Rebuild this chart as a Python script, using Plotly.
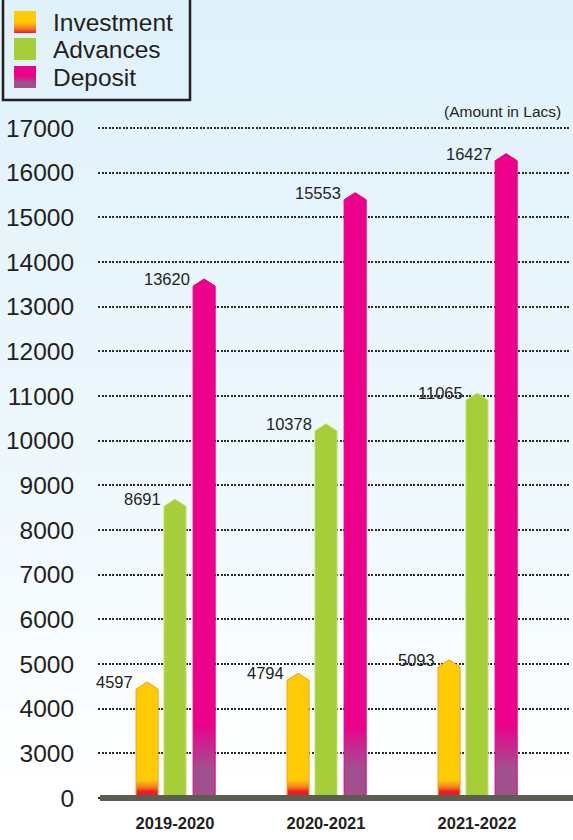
import base64
import struct
import zlib

import plotly.graph_objects as go

# ---------------- data ----------------
years = ["2019-2020", "2020-2021", "2021-2022"]
investment = [4597, 4794, 5093]
advances = [8691, 10378, 11065]
deposit = [13620, 15553, 16427]
y_tick_values = [0, 3000, 4000, 5000, 6000, 7000, 8000, 9000, 10000,
                 11000, 12000, 13000, 14000, 15000, 16000, 17000]
series_names = ["Investment", "Advances", "Deposit"]
unit_note = "(Amount in Lacs)"

# ---------------- helpers ----------------
W, H = 573, 840
FONT = "Liberation Sans, Arial, Helvetica, sans-serif"
TXT = "#231f20"

YELLOW = "#ffcb05"
ORANGE = "#f47b20"
RED = "#ed1c24"
GREEN = "#a6ce39"
MAGENTA = "#ec008c"
PURPLE = "#a24f8f"


def axis_pos(v):
    """Broken value axis: 0..3000 squeezed into one step, then 1000 per step."""
    return v / 3000 if v < 3000 else 1 + (v - 3000) / 1000


def hex_rgb(h):
    h = h.lstrip("#")
    return tuple(int(h[i:i + 2], 16) for i in (0, 2, 4))


def png_vgrad(stops, h=256, w=2):
    rows = b""
    for i in range(h):
        p = i / (h - 1)
        a, b = stops[0], stops[-1]
        for j in range(len(stops) - 1):
            if stops[j][0] <= p <= stops[j + 1][0]:
                a, b = stops[j], stops[j + 1]
                break
        f = (p - a[0]) / (b[0] - a[0]) if b[0] > a[0] else 0
        ca, cb = hex_rgb(a[1]), hex_rgb(b[1])
        c = bytes(round(ca[k] + (cb[k] - ca[k]) * f) for k in range(3))
        rows += b"\x00" + c * w

    def chunk(t, d):
        return (struct.pack(">I", len(d)) + t + d
                + struct.pack(">I", zlib.crc32(t + d) & 0xFFFFFFFF))

    png = (b"\x89PNG\r\n\x1a\n"
           + chunk(b"IHDR", struct.pack(">IIBBBBB", w, h, 8, 2, 0, 0, 0))
           + chunk(b"IDAT", zlib.compress(rows))
           + chunk(b"IEND", b""))
    return "data:image/png;base64," + base64.b64encode(png).decode()


# ---------------- geometry of plot area ----------------
Y0_PX, Y15_PX = 798, 128
step = (Y0_PX - Y15_PX) / 15
y_lo, y_hi = -0.3, 15.3
bottom_px = Y0_PX - y_lo * step
top_px = Y15_PX - (y_hi - 15) * step
y_domain = [(H - bottom_px) / H, (H - top_px) / H]
X_LEFT_PX, X_RIGHT_PX = 98, 571
x_domain = [X_LEFT_PX / W, X_RIGHT_PX / W]
x_range = [-0.51, 2.6225]

BAR_W = 0.146
OFFSETS = [-0.185, 0.0, 0.193]
TIP = 0.16

fig = go.Figure()

series = [investment, advances, deposit]
fills = [
    dict(type="vertical", start=0, stop=0.4,
         colorscale=[[0, RED], [0.35, RED], [0.6, ORANGE], [1, YELLOW]]),
    None,
    dict(type="vertical", start=0, stop=1.65,
         colorscale=[[0, PURPLE], [0.4, PURPLE], [1, MAGENTA]]),
]
solid = [YELLOW, GREEN, MAGENTA]
edges = ["#f5a01a", "#c4df78", "#e4007f"]

for si, vals in enumerate(series):
    for gi, v in enumerate(vals):
        xc = gi + OFFSETS[si]
        top = axis_pos(v)
        xl, xr = xc - BAR_W / 2, xc + BAR_W / 2
        xs = [xl, xl, xc, xr, xr, xl]
        ys = [0, top - TIP, top, top - TIP, 0, 0]
        kw = dict(x=xs, y=ys, mode="lines", fill="toself",
                  line=dict(color=edges[si], width=1),
                  hoverinfo="skip", showlegend=False,
                  name=series_names[si])
        if fills[si] is not None:
            kw["fillgradient"] = fills[si]
        else:
            kw["fillcolor"] = solid[si]
        fig.add_trace(go.Scatter(**kw))
        fig.add_annotation(x=xl, y=top, xref="x", yref="y", text=str(v),
                           showarrow=False, xanchor="right", yanchor="middle",
                           xshift=-1, font=dict(family=FONT, size=16.5, color=TXT))

# baseline
fig.add_shape(type="line", xref="paper", yref="y", x0=100 / W, x1=1.0,
              y0=0, y1=0, line=dict(color="#5b5d4f", width=6), layer="above")

# background gradient
fig.add_layout_image(dict(
    source=png_vgrad([(0, "#dff1fa"), (0.55, "#eef8fc"), (0.95, "#ffffff"), (1, "#ffffff")]),
    xref="paper", yref="paper", x=0, y=1, sizex=1, sizey=1,
    xanchor="left", yanchor="top", sizing="stretch", layer="below"))

# legend (manual)
fig.add_shape(type="rect", xref="paper", yref="paper",
              x0=3 / W, x1=190 / W, y0=1 - 100 / H, y1=1 + 3 / H,
              line=dict(color=TXT, width=2.5), fillcolor="rgba(0,0,0,0)")
swatch_rows = [(11, 33), (38, 60), (66, 88)]
swatch_src = [
    png_vgrad([(0, YELLOW), (0.5, YELLOW), (0.8, ORANGE), (1, RED)]),
    None,
    png_vgrad([(0, MAGENTA), (0.45, MAGENTA), (0.75, PURPLE), (1, PURPLE)]),
]
for i, (yt, yb) in enumerate(swatch_rows):
    if swatch_src[i] is None:
        fig.add_shape(type="rect", xref="paper", yref="paper",
                      x0=14 / W, x1=36 / W, y0=1 - yb / H, y1=1 - yt / H,
                      line=dict(width=0), fillcolor=GREEN)
    else:
        fig.add_layout_image(dict(
            source=swatch_src[i], xref="paper", yref="paper",
            x=14 / W, y=1 - yt / H, sizex=22 / W, sizey=(yb - yt) / H,
            xanchor="left", yanchor="top", sizing="stretch", layer="above"))
    fig.add_annotation(x=51 / W, y=1 - ((yt + yb) / 2 + 0.5) / H,
                       xref="paper", yref="paper", text=series_names[i],
                       showarrow=False, xanchor="left", yanchor="middle",
                       font=dict(family=FONT, size=24.5, color=TXT))

# unit note
fig.add_annotation(x=563 / W, y=1 - 112 / H, xref="paper", yref="paper",
                   text=unit_note, showarrow=False, xanchor="right",
                   yanchor="middle", font=dict(family=FONT, size=15.5, color=TXT))

fig.update_layout(
    width=W, height=H,
    margin=dict(l=0, r=0, t=0, b=0),
    paper_bgcolor="white",
    plot_bgcolor="rgba(0,0,0,0)",
    showlegend=False,
    template="none",
    xaxis=dict(domain=x_domain, range=x_range, tickvals=[0, 1, 2],
               ticktext=years, showgrid=False, zeroline=False,
               showline=False, ticks="", automargin=False, fixedrange=True,
               tickfont=dict(family=FONT, size=16.5, color=TXT, weight="bold")),
    yaxis=dict(domain=y_domain, range=[y_lo, y_hi],
               tickvals=[axis_pos(v) for v in y_tick_values],
               ticktext=[str(v) for v in y_tick_values],
               showgrid=True, gridcolor="#2a2a2a", gridwidth=1.5,
               griddash="2px,1.5px", zeroline=False, showline=False,
               ticks="outside", ticklen=18, tickcolor="rgba(0,0,0,0)",
               automargin=False, fixedrange=True,
               tickfont=dict(family=FONT, size=24.5, color=TXT)),
)

fig.write_html(
    "out.html",
    config={"displayModeBar": False},
    post_script="document.body.style.margin='0';document.body.style.padding='0';",
)
